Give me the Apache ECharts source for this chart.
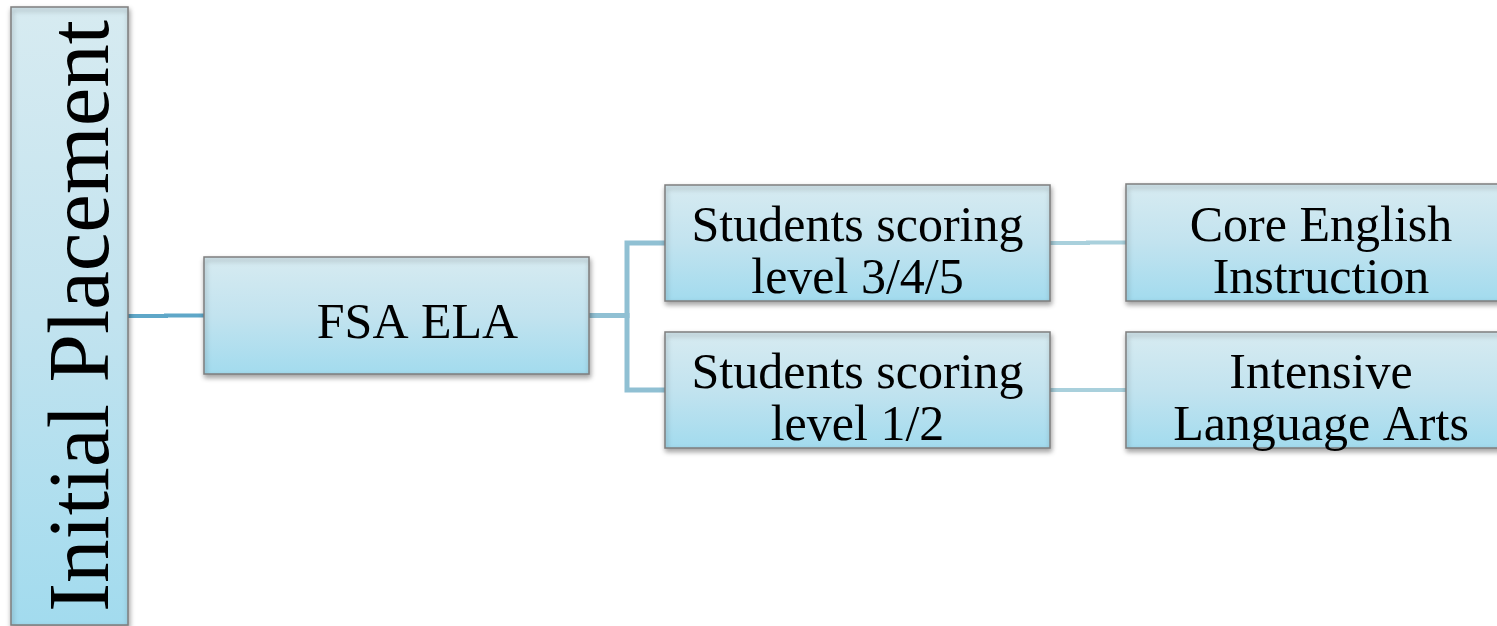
<!DOCTYPE html>
<html>
<head>
<meta charset="utf-8">
<script src="https://cdn.jsdelivr.net/npm/echarts@6/dist/echarts.min.js"></script>
<style>html,body{margin:0;padding:0;background:#fff;}#c{width:1497px;height:626px;}</style>
</head>
<body>
<div id="c"></div>
<script>
// ---- diagram content ----
const nodeLabels = ['Initial Placement', 'FSA ELA', 'Students scoring\nlevel 3/4/5', 'Students scoring\nlevel 1/2', 'Core English\nInstruction', 'Intensive\nLanguage Arts'];
const parentIndex = [-1, 0, 1, 1, 2, 3];
const depth = [0, 1, 2, 2, 3, 3];

// ---- layout (data units of hidden axes) ----
const layout = {
  box: [
    [11, 7, 128, 625],
    [204, 257, 589, 374],
    [665, 185, 1050, 301],
    [665, 332, 1050, 448],
    [1126, 184, 1516, 301],
    [1126, 332, 1516, 448]
  ],
  textDx: [16, 21, 0, 0, 0, 0],
  textDy: [0, 9, 11, 11, 11, 11],
  fontSize: [87, 50, 50, 50, 50, 50],
  rotate: [true, false, false, false, false, false]
};
const edgeColors = ['#5fa7c8', '#90c0d3', '#a9d0dc'];
const edgeWidths = [4, 5, 4];

const chart = echarts.init(document.getElementById('c'), null, {renderer: 'canvas'});

const nodeData = nodeLabels.map((n, i) => [i]);
const edgeData = parentIndex.map((p, i) => [i]).filter(d => parentIndex[d[0]] >= 0);

chart.setOption({
  animation: false,
  backgroundColor: '#ffffff',
  grid: {left: 0, right: 0, top: 0, bottom: 0},
  xAxis: {type: 'value', min: 0, max: 1497, show: false},
  yAxis: {type: 'value', min: 0, max: 626, inverse: true, show: false},
  series: [
    {
      type: 'custom',
      z: 1,
      data: edgeData,
      renderItem: function (params, api) {
        const c = api.value(0);
        const p = parentIndex[c];
        const pb = layout.box[p], cb = layout.box[c];
        const py = (pb[1] + pb[3]) / 2, cy = (cb[1] + cb[3]) / 2;
        const mid = (pb[2] + cb[0]) / 2;
        const pts = [[pb[2], py], [mid, py], [mid, cy], [cb[0], cy]].map(q => api.coord(q));
        return {
          type: 'polyline',
          shape: {points: pts},
          style: {stroke: edgeColors[depth[p]], lineWidth: edgeWidths[depth[p]], fill: null, lineJoin: 'miter'}
        };
      }
    },
    {
      type: 'custom',
      z: 2,
      data: nodeData,
      renderItem: function (params, api) {
        const i = api.value(0);
        const b = layout.box[i];
        const p0 = api.coord([b[0], b[1]]);
        const p1 = api.coord([b[2], b[3]]);
        const cx = (p0[0] + p1[0]) / 2, cy = (p0[1] + p1[1]) / 2;
        const fs = layout.fontSize[i];
        const grad = new echarts.graphic.LinearGradient(0, 0, 0, 1, [
          {offset: 0, color: '#d7ebf1'},
          {offset: 0.5, color: '#c2e3ef'},
          {offset: 1, color: '#a2dbee'}
        ]);
        return {
          type: 'group',
          children: [
            {
              type: 'rect',
              shape: {x: p0[0], y: p0[1], width: p1[0] - p0[0], height: p1[1] - p0[1]},
              style: {
                fill: grad,
                stroke: '#7f7f7f',
                lineWidth: 1.5,
                shadowBlur: 5,
                shadowOffsetX: 1,
                shadowOffsetY: 3,
                shadowColor: 'rgba(0,0,0,0.35)'
              }
            },
            {
              type: 'text',
              x: cx + layout.textDx[i],
              y: cy + layout.textDy[i],
              rotation: layout.rotate[i] ? Math.PI / 2 : 0,
              style: {
                text: nodeLabels[i],
                fill: '#000000',
                fontSize: fs,
                fontFamily: 'Liberation Serif',
                align: 'center',
                verticalAlign: 'middle',
                lineHeight: 52
              }
            }
          ]
        };
      }
    }
  ]
});
</script>
</body>
</html>
